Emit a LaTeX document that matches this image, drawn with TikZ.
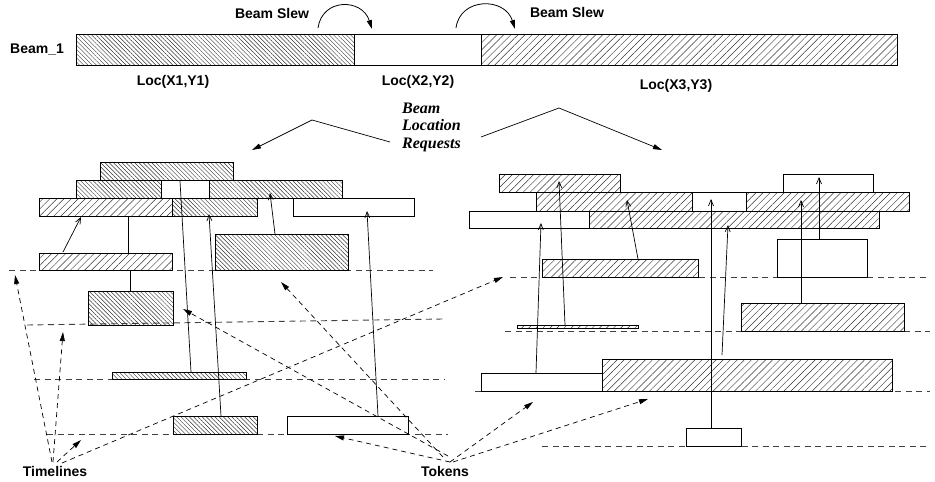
\documentclass[tikz,border=0pt]{standalone}
\usepackage{fontspec}
\setmainfont{Liberation Sans}
\newfontfamily\serifbi{Liberation Serif}
\usetikzlibrary{patterns.meta,arrows.meta}
\begin{document}
\begin{tikzpicture}[x=1pt,y=-1pt,
  box/.style={draw=black, line width=0.9pt},
  hatchA/.style={box, pattern={Lines[angle=-45,distance=3pt,line width=0.45pt]}, pattern color=black!80},
  hatchB/.style={box, pattern={Lines[angle=45,distance=5pt,line width=0.45pt]}, pattern color=black!80},
  whitebox/.style={box, fill=white},
  timeline/.style={draw=black!75, line width=0.9pt, dash pattern=on 6pt off 4.5pt},
  pointer/.style={draw=black, line width=0.7pt, dash pattern=on 5pt off 4pt, -{Triangle[length=9pt,width=5pt]}},
  link/.style={draw=black, line width=0.7pt, -{Straight Barb[length=6pt,width=5pt]}},
  plainlink/.style={draw=black, line width=0.7pt},
  lbl/.style={font=\fontsize{14}{16}\selectfont\bfseries, inner sep=0pt},
  req/.style={font=\fontsize{16}{17.5}\selectfont\serifbi\bfseries\itshape, align=left, inner sep=0pt},
  slew/.style={draw=black, line width=0.8pt, -{Triangle[length=9pt,width=5pt]}}
]
\useasboundingbox (0,0) rectangle (935,482);

% ---------- top beam bar ----------
\draw[hatchA] (76,34) rectangle (354,65);
\draw[whitebox] (354,34) rectangle (481,65);
\draw[hatchB] (481,34) rectangle (897,65);
\node[lbl] (beam) at (37,50) {Beam\_1};
\node[lbl] (loc1) at (173,82) {Loc(X1,Y1)};
\node[lbl] (loc2) at (418,82) {Loc(X2,Y2)};
\node[lbl] (loc3) at (676,86) {Loc(X3,Y3)};
\node[lbl] (slew1) at (272,13) {Beam Slew};
\node[lbl] (slew2) at (567,12) {Beam Slew};
\coordinate (s1a) at (318,28); \coordinate (s1b) at (372,29);
\coordinate (s2a) at (456,28); \coordinate (s2b) at (515,29);
\draw[slew] (s1a) .. controls (322,-2) and (362,-2) .. (s1b);
\draw[slew] (s2a) .. controls (460,-3) and (505,-3) .. (s2b);

% ---------- requests ----------
\node[req, anchor=west] (reqs) at (402,127) {Beam\\Location\\Requests};
\coordinate (rqL0) at (390,142); \coordinate (rqL1) at (312,120); \coordinate (rqL2) at (252,150);
\coordinate (rqR0) at (481,137); \coordinate (rqR1) at (559,108); \coordinate (rqR2) at (662,150);
\draw[slew, line width=0.7pt] (rqL0) -- (rqL1) -- (rqL2);
\draw[slew, line width=0.7pt] (rqR0) -- (rqR1) -- (rqR2);

% ---------- left timelines ----------
\draw[timeline] (9,270) -- (433,270);
\draw[timeline] (27,325) -- (443,319);
\draw[timeline] (34,379) -- (445,379);
\draw[timeline] (47,434) -- (448,434);

% ---------- left tokens ----------
\draw[hatchA] (100,162) rectangle (233,180);
\draw[hatchA] (76,180) rectangle (161,198);
\draw[whitebox] (161,180) rectangle (209,198);
\draw[hatchA] (209,180) rectangle (342,198);
\draw[hatchB] (39,198) rectangle (172,216);
\draw[hatchA] (172,198) rectangle (257,216);
\draw[whitebox] (293,198) rectangle (414,216);
\draw[hatchB] (39,253) rectangle (172,270);
\draw[hatchA] (215,234) rectangle (348,270);
\draw[hatchA] (88,291) rectangle (173,325);
\draw[hatchA] (112,372) rectangle (246,379);
\draw[hatchA] (173,416) rectangle (257,434);
\draw[whitebox] (287,416) rectangle (408,434);

% ---------- right timelines ----------
\draw[timeline] (510,277) -- (927,277);
\draw[timeline] (505,331) -- (930,331);
\draw[timeline] (475,391) -- (930,391);
\draw[timeline] (542,446) -- (930,446);

% ---------- right tokens ----------
\draw[hatchB] (499,174) rectangle (620,192);
\draw[whitebox] (783,174) rectangle (873,192);
\draw[hatchB] (536,192) rectangle (692,211);
\draw[whitebox] (692,192) rectangle (746,211);
\draw[hatchB] (746,192) rectangle (909,211);
\draw[whitebox] (469,211) rectangle (589,228);
\draw[hatchB] (589,211) rectangle (879,228);
\draw[hatchB] (542,259) rectangle (698,277);
\draw[whitebox] (777,239) rectangle (867,277);
\draw[hatchB] (741,303) rectangle (904,331);
\draw[hatchB] (517,325) rectangle (638,328);
\draw[whitebox] (481,373) rectangle (602,391);
\draw[hatchB] (602,359) rectangle (892,391);
\draw[whitebox] (686,428) rectangle (741,446);

% ---------- left links ----------
\coordinate (la0) at (63,252);  \coordinate (la1) at (81,217);
\coordinate (lb0) at (128,216); \coordinate (lb1) at (128,253);
\coordinate (lc0) at (130,270); \coordinate (lc1) at (130,291);
\coordinate (ld0) at (180,181); \coordinate (ld1) at (191,372);
\coordinate (le0) at (221,416); \coordinate (le1) at (209,214);
\coordinate (lf0) at (275,234); \coordinate (lf1) at (270,193);
\coordinate (lg0) at (378,416); \coordinate (lg1) at (367,211);
\draw[link] (la0) -- (la1);
\draw[plainlink] (lb0) -- (lb1);
\draw[plainlink] (lc0) -- (lc1);
\draw[plainlink] (ld0) -- (ld1);
\draw[link] (le0) -- (le1);
\draw[link] (lf0) -- (lf1);
\draw[link] (lg0) -- (lg1);

% ---------- right links ----------
\coordinate (ra0) at (565,325); \coordinate (ra1) at (559,181);
\coordinate (rb0) at (536,373); \coordinate (rb1) at (541,223);
\coordinate (rc0) at (638,259); \coordinate (rc1) at (627,200);
\coordinate (rd0) at (711,428); \coordinate (rd1) at (711,199);
\coordinate (re0) at (722,355); \coordinate (re1) at (728,225);
\coordinate (rf0) at (801,303); \coordinate (rf1) at (801,200);
\coordinate (rg0) at (819,239); \coordinate (rg1) at (819,177);
\draw[link] (ra0) -- (ra1);
\draw[link] (rb0) -- (rb1);
\draw[link] (rc0) -- (rc1);
\draw[link] (rd0) -- (rd1);
\draw[link] (re0) -- (re1);
\draw[link] (rf0) -- (rf1);
\draw[link] (rg0) -- (rg1);

% ---------- labels and pointers ----------
\node[lbl] (timelines) at (55,471) {Timelines};
\node[lbl] (tokens) at (445,471) {Tokens};
\coordinate (ta) at (52,462);  \coordinate (ta1) at (15,275);
\coordinate (tb) at (53,462);  \coordinate (tb1) at (63,332);
\coordinate (tc) at (57,462);  \coordinate (tc1) at (81,440);
\coordinate (td) at (62,463);  \coordinate (td1) at (503,277);
\draw[pointer] (ta) -- (ta1);
\draw[pointer] (tb) -- (tb1);
\draw[pointer] (tc) -- (tc1);
\draw[pointer] (td) -- (td1);
\coordinate (ka) at (450,462); \coordinate (ka1) at (335,436);
\coordinate (kb) at (448,456); \coordinate (kb1) at (183,309);
\coordinate (kc) at (443,457); \coordinate (kc1) at (281,282);
\coordinate (kd) at (450,462); \coordinate (kd1) at (533,402);
\coordinate (ke) at (453,462); \coordinate (ke1) at (648,399);
\draw[pointer] (ka) -- (ka1);
\draw[pointer] (kb) -- (kb1);
\draw[pointer] (kc) -- (kc1);
\draw[pointer] (kd) -- (kd1);
\draw[pointer] (ke) -- (ke1);
\end{tikzpicture}
\end{document}
